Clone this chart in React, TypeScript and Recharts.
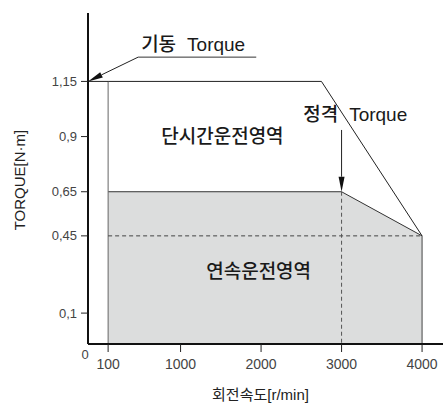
import React from "react";
import {
  Area,
  ComposedChart,
  Label,
  Line,
  ReferenceDot,
  ReferenceLine,
  XAxis,
  YAxis,
} from "recharts";

// speed [r/min] / torque [N·m]
const speedTicks = [100, 1000, 2000, 3000, 4000];
const torqueTicks = [0.1, 0.45, 0.65, 0.9, 1.15];

const continuousSpeed = [100, 3000, 4000];
const continuousTorque = [0.65, 0.65, 0.45];

const peakSpeed = [100, 2750, 4000];
const peakTorque = [1.15, 1.15, 0.45];

const startTorque = 1.15;
const ratedSpeed = 3000;
const ratedTorque = 0.65;
const maxSpeed = 4000;
const maxSpeedTorque = 0.45;

const X_MIN = -150;
const X_MAX = 4260;
const Y_MIN = -0.04;
const Y_MAX = 1.46;

const continuousData = continuousSpeed.map((speed, i) => ({ speed, torque: continuousTorque[i] }));
const peakData = peakSpeed.map((speed, i) => ({ speed, torque: peakTorque[i] }));

const FONT = "'Liberation Sans', 'Noto Sans CJK KR', sans-serif";

function Arrow(props: any) {
  const { x1, y1, x2, y2 } = props;
  const ang = Math.atan2(y2 - y1, x2 - x1);
  const len = 15;
  const half = 3;
  const bx = x2 - len * Math.cos(ang);
  const by = y2 - len * Math.sin(ang);
  const px = -Math.sin(ang) * half;
  const py = Math.cos(ang) * half;
  return (
    <g>
      <line x1={x1} y1={y1} x2={bx} y2={by} stroke="#222" strokeWidth={1} />
      <polygon points={`${x2},${y2} ${bx + px},${by + py} ${bx - px},${by - py}`} fill="#111" />
    </g>
  );
}

// korean part + latin part with a wider gap, as in the original drawing
function callout(kr: string, latin: string, size: number) {
  return (p: any) => (
    <text x={p.cx} y={p.cy} fontSize={size} fill="#1a1a1a" fontFamily={FONT}>
      <tspan fontWeight={500}>{kr}</tspan>
      <tspan dx={11}>{latin}</tspan>
    </text>
  );
}

function regionLabel(label: string, size: number) {
  return (p: any) => (
    <text
      x={p.cx}
      y={p.cy}
      textAnchor="middle"
      dominantBaseline="central"
      fontSize={size}
      fontWeight={500}
      fill="#1a1a1a"
      fontFamily={FONT}
    >
      {label}
    </text>
  );
}

export default function App() {
  return (
    <div style={{ position: "absolute", left: 0, top: 0, fontFamily: FONT }}>
      <ComposedChart width={443} height={407} margin={{ top: 13, right: 0, bottom: 0, left: 0 }}>
        <XAxis
          dataKey="speed"
          type="number"
          domain={[X_MIN, X_MAX]}
          ticks={speedTicks}
          interval={0}
          allowDataOverflow
          height={63}
          axisLine={{ stroke: "#111", strokeWidth: 2 }}
          tickLine={{ stroke: "#222" }}
          tickSize={8}
          tickMargin={7}
          tick={{ fill: "#444", fontSize: 14, fontFamily: FONT }}
        >
          <Label
            content={(p: any) => (
              <text x={p.viewBox.x - 3} y={p.viewBox.y + 14.5} textAnchor="middle" fontSize={13} fill="#444" fontFamily={FONT}>
                0
              </text>
            )}
          />
          <Label
            content={(p: any) => (
              <text
                x={p.viewBox.x + p.viewBox.width / 2 - 5}
                y={p.viewBox.y + 56}
                textAnchor="middle"
                fontSize={15}
                fill="#222"
                fontFamily={FONT}
              >
                회전속도[r/min]
              </text>
            )}
          />
        </XAxis>
        <YAxis
          type="number"
          domain={[Y_MIN, Y_MAX]}
          ticks={torqueTicks}
          interval={0}
          allowDataOverflow
          width={88}
          axisLine={{ stroke: "#111", strokeWidth: 2 }}
          tickLine={{ stroke: "#222" }}
          tickSize={7}
          tickMargin={4}
          tick={{ fill: "#444", fontSize: 13, fontFamily: FONT }}
          tickFormatter={(v: number) => String(v).replace(".", ",")}
        >
          <Label
            content={(p: any) => {
              const cx = p.viewBox.x + 19;
              const cy = p.viewBox.y + p.viewBox.height / 2 + 1.5;
              return (
                <text
                  x={cx}
                  y={cy}
                  transform={`rotate(-90 ${cx} ${cy})`}
                  textAnchor="middle"
                  dominantBaseline="central"
                  fontSize={15}
                  fill="#222"
                  fontFamily={FONT}
                >
                  TORQUE[N·m]
                </text>
              );
            }}
          />
        </YAxis>

        <Area
          data={continuousData}
          dataKey="torque"
          type="linear"
          baseValue="dataMin"
          fill="#dcdddd"
          fillOpacity={1}
          stroke="#333"
          strokeWidth={1}
          isAnimationActive={false}
        />

        <ReferenceLine
          segment={[{ x: continuousSpeed[0], y: startTorque }, { x: continuousSpeed[0], y: Y_MIN }]}
          stroke="#666"
          strokeWidth={1}
        />
        <ReferenceLine
          segment={[{ x: maxSpeed, y: maxSpeedTorque }, { x: maxSpeed, y: Y_MIN }]}
          stroke="#444"
          strokeWidth={1}
        />
        <ReferenceLine
          segment={[{ x: continuousSpeed[0], y: maxSpeedTorque }, { x: maxSpeed, y: maxSpeedTorque }]}
          stroke="#444"
          strokeDasharray="4 3"
        />
        <ReferenceLine
          segment={[{ x: ratedSpeed, y: ratedTorque }, { x: ratedSpeed, y: Y_MIN }]}
          stroke="#555"
          strokeDasharray="4 3"
        />
        <ReferenceLine
          segment={[{ x: X_MIN, y: startTorque }, { x: peakSpeed[0], y: startTorque }]}
          stroke="#222"
        />

        <Line
          data={peakData}
          dataKey="torque"
          type="linear"
          stroke="#222"
          strokeWidth={1}
          dot={false}
          activeDot={false}
          isAnimationActive={false}
        />

        {/* 기동 Torque callout */}
        <ReferenceLine segment={[{ x: 473, y: 1.26 }, { x: 1940, y: 1.26 }]} stroke="#333" />
        <ReferenceLine segment={[{ x: 473, y: 1.26 }, { x: X_MIN, y: startTorque }]} shape={Arrow} />
        <ReferenceDot x={510} y={1.29} r={1} ifOverflow="visible" shape={callout("기동", "Torque", 19)} />

        {/* 정격 Torque callout */}
        <ReferenceLine segment={[{ x: ratedSpeed, y: 0.93 }, { x: ratedSpeed, y: ratedTorque }]} shape={Arrow} />
        <ReferenceDot x={2523} y={0.97} r={1} ifOverflow="visible" shape={callout("정격", "Torque", 19)} />

        <ReferenceDot x={1520} y={0.9} r={1} ifOverflow="visible" shape={regionLabel("단시간운전영역", 19)} />
        <ReferenceDot x={1970} y={0.29} r={1} ifOverflow="visible" shape={regionLabel("연속운전영역", 19)} />
      </ComposedChart>
    </div>
  );
}
